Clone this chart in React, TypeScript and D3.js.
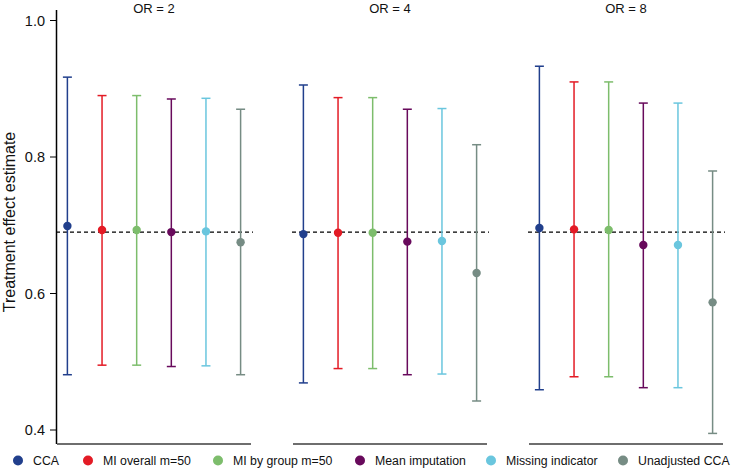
import React from "react";
import * as d3 from "d3";

const methods = ["CCA", "MI overall m=50", "MI by group m=50", "Mean imputation", "Missing indicator", "Unadjusted CCA"];
const colors = ["#213f8c", "#e31b25", "#7dbd6c", "#680a5c", "#6ac6de", "#768c84"];
const panels = ["OR = 2", "OR = 4", "OR = 8"];
const estimates = [
  [0.699, 0.693, 0.693, 0.690, 0.691, 0.675],
  [0.687, 0.689, 0.689, 0.676, 0.677, 0.630],
  [0.696, 0.694, 0.693, 0.671, 0.671, 0.587],
];
const lowers = [
  [0.481, 0.495, 0.495, 0.493, 0.494, 0.481],
  [0.469, 0.490, 0.490, 0.481, 0.482, 0.4425],
  [0.459, 0.478, 0.478, 0.462, 0.462, 0.395],
];
const uppers = [
  [0.917, 0.890, 0.890, 0.885, 0.886, 0.870],
  [0.9055, 0.887, 0.887, 0.870, 0.871, 0.818],
  [0.933, 0.910, 0.910, 0.879, 0.879, 0.7795],
];
const trueValue = 0.69;
const yTicks = [0.4, 0.6, 0.8, 1.0];

const W = 733, H = 469;
const font = "'Liberation Sans', Arial, sans-serif";

export default function App() {
  const y = d3.scaleLinear().domain([0.4, 1.0]).range([430, 20.5]);
  const panelX = d3.scaleBand<string>().domain(panels).range([57, 723]).paddingInner(42 / 236);
  const pw = panelX.bandwidth();
  const legendX = [18, 88, 218, 360, 491, 623];

  return (
    <div style={{ position: "fixed", left: 0, top: 0 }}>
      <svg width={W} height={H} style={{ display: "block", background: "#fff" }}>
        {/* y axis */}
        <line x1={56.5} x2={56.5} y1={10} y2={444} stroke="#000" strokeWidth={1.5} />
        {yTicks.map((t) => (
          <g key={t}>
            <line x1={50} x2={56.5} y1={y(t)} y2={y(t)} stroke="#000" strokeWidth={1} />
            <text x={45} y={y(t)} dy="0.35em" textAnchor="end" fontFamily={font} fontSize={14.5} fill="#111">
              {d3.format(".1f")(t)}
            </text>
          </g>
        ))}
        <text
          transform={`translate(15,222) rotate(-90)`}
          textAnchor="middle"
          fontFamily={font}
          fontSize={16}
          fill="#111"
        >
          Treatment effect estimate
        </text>
        {panels.map((p, pi) => {
          const x0 = panelX(p)!;
          const xs = d3.scalePoint<string>().domain(methods).range([x0, x0 + pw]).padding(0.3);
          return (
            <g key={p}>
              <text x={x0 + pw / 2} y={13} textAnchor="middle" fontFamily={font} fontSize={13} fill="#111">
                {p}
              </text>
              <line x1={x0} x2={x0 + pw} y1={444} y2={444} stroke="#6e6e6e" strokeWidth={2} />
              <line
                x1={x0 - 1}
                x2={x0 + pw + 2}
                y1={y(trueValue)}
                y2={y(trueValue)}
                stroke="#000"
                strokeWidth={1.3}
                strokeDasharray="4,3"
              />
              {methods.map((m, i) => {
                const cx = xs(m)!;
                return (
                  <g key={m}>
                    <line x1={cx} x2={cx} y1={y(lowers[pi][i])} y2={y(uppers[pi][i])} stroke={colors[i]} strokeWidth={1.5} />
                    <line x1={cx - 4.5} x2={cx + 4.5} y1={y(lowers[pi][i])} y2={y(lowers[pi][i])} stroke={colors[i]} strokeWidth={1.5} />
                    <line x1={cx - 4.5} x2={cx + 4.5} y1={y(uppers[pi][i])} y2={y(uppers[pi][i])} stroke={colors[i]} strokeWidth={1.5} />
                    <circle cx={cx} cy={y(estimates[pi][i])} r={4.2} fill={colors[i]} />
                  </g>
                );
              })}
            </g>
          );
        })}
        {/* legend */}
        {methods.map((m, i) => (
          <g key={m}>
            <circle cx={legendX[i]} cy={460.5} r={5} fill={colors[i]} />
            <text x={legendX[i] + 15} y={460.5} dy="0.35em" fontFamily={font} fontSize={12.3} fill="#111">
              {m}
            </text>
          </g>
        ))}
      </svg>
    </div>
  );
}
